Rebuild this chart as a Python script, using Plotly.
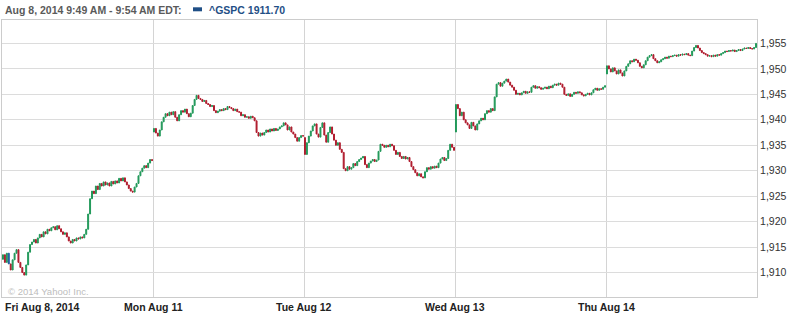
import plotly.graph_objects as go

# ---------------- data ----------------
day_labels = ["Fri Aug 8, 2014", "Mon Aug 11", "Tue Aug 12", "Wed Aug 13", "Thu Aug 14"]
bars_per_day = 78  # 5-minute bars, 9:30-16:00

day_open = [1912.6, 1937.6, 1936.5, 1937.6, 1949.0]

fri_close = [1913.5, 1912.0, 1913.8, 1911.7, 1910.5, 1912.5, 1913.8, 1914.5, 1912.0, 1911.0,
             1910.0, 1909.5, 1911.5, 1914.0, 1915.5, 1916.0, 1916.5, 1915.8, 1916.8, 1917.5,
             1917.0, 1918.0, 1917.6, 1918.5, 1918.2, 1918.8, 1919.0, 1918.4, 1919.2, 1918.6,
             1918.0, 1917.5, 1917.8, 1917.0, 1916.2, 1915.8, 1916.5, 1916.2, 1916.8, 1916.6,
             1917.0, 1916.8, 1917.5, 1918.5, 1921.5, 1924.5, 1926.0, 1925.5, 1927.0, 1926.3,
             1927.5, 1927.0, 1927.8, 1927.2, 1927.6, 1927.0, 1927.9, 1927.4, 1928.0, 1927.6,
             1928.5, 1928.0, 1928.6, 1927.8, 1927.2, 1926.5, 1926.0, 1925.8, 1926.8, 1927.5,
             1929.0, 1929.8, 1930.5, 1931.0, 1930.6, 1931.5, 1932.2, 1932.0]

mon_close = [1938.3, 1937.4, 1936.8, 1938.0, 1939.6, 1940.5, 1941.2, 1940.8, 1941.5, 1941.0,
             1941.6, 1940.5, 1939.8, 1941.0, 1941.8, 1941.5, 1942.1, 1941.2, 1940.6, 1941.3,
             1942.8, 1944.0, 1944.8, 1944.2, 1944.0, 1943.6, 1943.8, 1943.2, 1943.0, 1942.6,
             1942.8, 1941.8, 1941.4, 1941.7, 1942.0, 1941.8, 1942.2, 1942.0, 1942.6, 1942.4,
             1942.2, 1941.8, 1942.1, 1941.6, 1941.5, 1940.8, 1941.0, 1940.5, 1940.6, 1940.3,
             1940.7, 1940.4, 1939.8, 1937.5, 1936.8, 1937.4, 1937.0, 1937.5, 1938.0, 1937.6,
             1938.2, 1937.8, 1938.3, 1937.9, 1938.2, 1938.6, 1938.8, 1939.4, 1939.0, 1938.0,
             1938.6, 1937.6, 1937.2, 1936.5, 1935.8, 1936.5, 1936.9, 1936.8]

tue_close = [1933.2, 1935.5, 1936.8, 1937.8, 1938.8, 1939.2, 1937.2, 1936.6, 1938.5, 1939.4,
             1937.0, 1935.6, 1937.5, 1938.6, 1937.2, 1936.0, 1935.0, 1935.5, 1934.2, 1933.6,
             1930.4, 1930.0, 1930.8, 1930.3, 1930.6, 1931.4, 1931.0, 1931.8, 1932.2, 1932.5,
             1932.8, 1931.2, 1930.6, 1931.5, 1931.9, 1932.2, 1931.8, 1932.1, 1933.8, 1935.2,
             1935.0, 1934.6, 1935.0, 1934.7, 1935.2, 1934.9, 1934.0, 1933.2, 1933.6, 1932.8,
             1932.4, 1932.8, 1932.3, 1932.6, 1931.8, 1930.8, 1930.2, 1929.6, 1929.0, 1929.4,
             1928.8, 1928.6, 1929.8, 1930.6, 1930.3, 1930.8, 1930.5, 1930.9, 1930.6, 1931.5,
             1932.3, 1932.6, 1932.0, 1932.4, 1934.0, 1935.2, 1934.6, 1934.0]

wed_close = [1943.0, 1942.2, 1940.8, 1941.5, 1940.0, 1939.4, 1939.0, 1938.3, 1939.5, 1938.8,
             1938.0, 1939.2, 1939.8, 1940.3, 1940.0, 1941.2, 1941.8, 1941.5, 1942.2, 1941.8,
             1944.5, 1947.0, 1947.3, 1946.6, 1947.2, 1947.6, 1948.0, 1947.4, 1946.8, 1946.4,
             1945.8, 1945.0, 1945.2, 1944.9, 1945.3, 1945.6, 1945.2, 1945.5, 1945.4, 1946.4,
             1946.7, 1946.2, 1946.5, 1946.3, 1946.0, 1946.2, 1946.4, 1946.1, 1946.6, 1946.3,
             1946.8, 1947.0, 1946.8, 1947.2, 1947.0, 1946.4, 1945.0, 1944.8, 1945.1, 1944.6,
             1945.0, 1945.4, 1945.2, 1945.5, 1945.3, 1944.9, 1944.7, 1945.0, 1945.2, 1944.9,
             1945.3, 1945.9, 1946.2, 1945.8, 1946.1, 1946.0, 1946.4, 1946.7]

thu_close = [1950.6, 1950.0, 1949.4, 1950.2, 1949.6, 1949.0, 1949.8, 1949.2, 1948.6, 1949.6,
             1950.5, 1951.0, 1951.6, 1951.4, 1951.9, 1951.7, 1951.2, 1950.5, 1950.2, 1950.8,
             1951.6, 1952.3, 1952.6, 1952.8, 1952.0, 1951.6, 1951.2, 1951.4, 1951.8, 1952.0,
             1952.3, 1952.1, 1952.5, 1952.4, 1952.6, 1952.7, 1952.5, 1952.8, 1952.7, 1952.9,
             1952.8, 1953.0, 1952.7, 1952.6, 1953.5, 1954.2, 1954.6, 1954.1, 1953.6, 1953.2,
             1953.0, 1952.8, 1952.5, 1952.6, 1952.4, 1952.7, 1952.5, 1952.8, 1952.7, 1953.0,
             1953.2, 1953.5, 1953.4, 1953.6, 1953.5, 1953.7, 1953.4, 1953.6, 1953.8, 1953.6,
             1953.9, 1954.1, 1954.0, 1954.2, 1954.0, 1953.9, 1954.2, 1955.0]

closes_by_day = [fri_close, mon_close, tue_close, wed_close, thu_close]

y_ticks = [1910, 1915, 1920, 1925, 1930, 1935, 1940, 1945, 1950, 1955]
header_text = "Aug 8, 2014 9:49 AM - 9:54 AM EDT:"
legend_text = "^GSPC 1911.70"
copyright_text = "\u00a9 2014 Yahoo! Inc."
highlight_bar = (0, 3)  # (day, bar) hovered bar shown in blue

# ---------------- build OHLC ----------------
xs, os_, hs, ls, cs = [], [], [], [], []
hx, ho, hh, hl, hc = [], [], [], [], []
for d, closes in enumerate(closes_by_day):
    prev = day_open[d]
    for i, cl in enumerate(closes):
        xi = d * bars_per_day + i
        if (d, i) == highlight_bar:
            hx.append(xi); ho.append(prev); hc.append(cl)
            hh.append(max(prev, cl)); hl.append(min(prev, cl))
        else:
            xs.append(xi); os_.append(prev); cs.append(cl)
            hs.append(max(prev, cl)); ls.append(min(prev, cl))
        prev = cl

GREEN = "#22995a"
RED = "#b01c2e"
BLUE = "#1f5a9e"

fig = go.Figure()
fig.add_trace(go.Candlestick(
    x=xs, open=os_, high=hs, low=ls, close=cs,
    increasing=dict(line=dict(color=GREEN, width=1), fillcolor=GREEN),
    decreasing=dict(line=dict(color=RED, width=1), fillcolor=RED),
    whiskerwidth=0, hoverinfo="skip", showlegend=False))
fig.add_trace(go.Candlestick(
    x=hx, open=ho, high=hh, low=hl, close=hc,
    increasing=dict(line=dict(color=BLUE, width=1), fillcolor=BLUE),
    decreasing=dict(line=dict(color=BLUE, width=1), fillcolor=BLUE),
    whiskerwidth=0, hoverinfo="skip", showlegend=False))

n_bars = bars_per_day * len(closes_by_day)
day_starts = [d * bars_per_day - 0.5 for d in range(len(day_labels))]

FONT = "Liberation Sans, Arial, sans-serif"
annotations = []
for d, lab in enumerate(day_labels):
    annotations.append(dict(
        x=day_starts[d], xref="x", y=0, yref="paper",
        yanchor="top", xanchor="left" if d == 0 else "center",
        xshift=1 if d == 0 else 0, yshift=-2,
        text="<b>%s</b>" % lab, showarrow=False,
        font=dict(family=FONT, size=10.5, color="#222222")))
annotations.append(dict(
    x=(3 - 2) / 755, xref="paper", y=1, yref="paper", xanchor="left", yanchor="middle",
    yshift=10.5, text="<b>%s</b>" % header_text, showarrow=False,
    font=dict(family=FONT, size=10.5, color="#5a5a5a")))
annotations.append(dict(
    x=(207 - 2) / 755, xref="paper", y=1, yref="paper", xanchor="left", yanchor="middle",
    yshift=10.5, text="<b>%s</b>" % legend_text, showarrow=False,
    font=dict(family=FONT, size=10.5, color="#1f4f86")))
annotations.append(dict(
    x=(6 - 2) / 755, xref="paper", y=(297 - 291) / 277, yref="paper",
    xanchor="left", yanchor="middle", text=copyright_text, showarrow=False,
    font=dict(family=FONT, size=9.5, color="#bdbdbd")))

fig.update_layout(
    width=793, height=313,
    margin=dict(l=2, r=36, t=20, b=16),
    paper_bgcolor="white", plot_bgcolor="white",
    annotations=annotations,
    shapes=[dict(type="rect", xref="paper", yref="paper",
                 x0=(193 - 2) / 755, x1=(202 - 2) / 755,
                 y0=(297 - 11.3) / 277, y1=(297 - 7.3) / 277,
                 line=dict(width=0), fillcolor="#1f4f86")],
    xaxis=dict(range=[-0.5, n_bars - 0.5], tickmode="array", tickvals=day_starts[1:],
               showticklabels=False, showgrid=True, gridcolor="#d4d4d4", gridwidth=1,
               showline=True, mirror=True, linecolor="#cccccc", linewidth=1,
               zeroline=False, rangeslider=dict(visible=False), fixedrange=True),
    yaxis=dict(range=[1905.2, 1959.6], side="right", tickmode="array", tickvals=y_ticks,
               ticktext=["{:,}".format(v) for v in y_ticks], showgrid=True,
               gridcolor="#dcdcdc", gridwidth=1, showline=True, mirror=True,
               linecolor="#cccccc", linewidth=1, zeroline=False, ticks="",
               tickfont=dict(family=FONT, size=10.5, color="#333333"), fixedrange=True),
    hovermode=False,
)

fig.write_html("out.html")
